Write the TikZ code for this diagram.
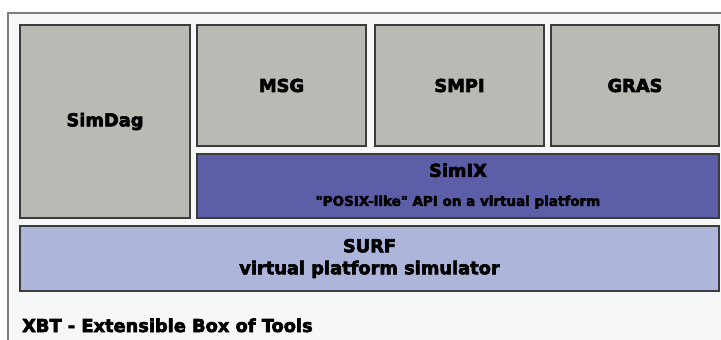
\documentclass[tikz,border=0pt]{standalone}
\usepackage{fontspec}
\newfontfamily\blk{DejaVu Sans}[UprightFont={* Bold}, FakeBold=3.5]
\definecolor{bgc}{HTML}{F5F8F7}
\definecolor{framec}{HTML}{7C7C7C}
\definecolor{edgec}{HTML}{3C3C3C}
\definecolor{grayc}{HTML}{B8BAB4}
\definecolor{simixc}{HTML}{5C5FA7}
\definecolor{surfc}{HTML}{AEB5DB}
\begin{document}
\begin{tikzpicture}[x=1pt,y=1pt,
  layer/.style={draw=edgec, line width=1.2pt, anchor=north west, inner sep=0pt, outer sep=0pt,
    font=\blk\fontsize{17.8}{22}\selectfont, align=center, text=black},
  apibox/.style={layer, fill=grayc},
]
\useasboundingbox (0,0) rectangle (721,-340);
\fill[white] (0,0) rectangle (721,-340);
\draw[framec, line width=1.5pt, fill=bgc] (8,-13) rectangle (740,-360);
\node[apibox, minimum width=170pt, minimum height=193pt] (simdag) at (20,-25) {SimDag};
\node[apibox, minimum width=169pt, minimum height=121pt] (msg) at (197,-25) {MSG};
\node[apibox, minimum width=169pt, minimum height=121pt] (smpi) at (375,-25) {SMPI};
\node[apibox, minimum width=168pt, minimum height=121pt] (gras) at (551,-25) {GRAS};
\node[layer, fill=simixc, minimum width=522pt, minimum height=64pt] (simix) at (197,-154)
  {SimIX\\[7pt]{\fontsize{13.5}{16}\selectfont "POSIX-like" API on a virtual platform}};
\node[layer, fill=surfc, minimum width=699pt, minimum height=65pt] (surf) at (20,-226)
  {\fontsize{17.8}{23}\selectfont SURF\\ virtual platform simulator};
\node[anchor=base west, inner sep=0pt, font=\blk\fontsize{17.8}{22}\selectfont] (xbt) at (22,-332)
  {XBT - Extensible Box of Tools};
\end{tikzpicture}
\end{document}
